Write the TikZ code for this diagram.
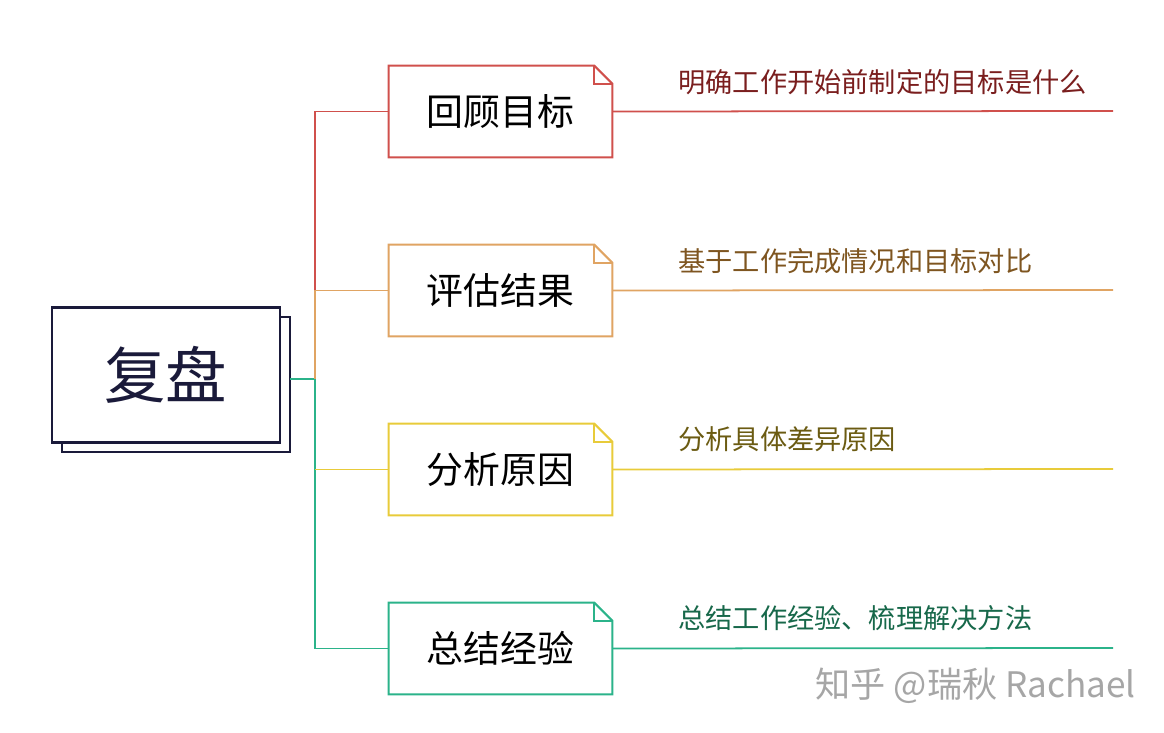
\documentclass[tikz,border=0pt]{standalone}
\usepackage{fontspec}
\setmainfont{Noto Sans CJK SC}
\usetikzlibrary{positioning}
\definecolor{cred}{HTML}{D0504C}
\definecolor{corange}{HTML}{E0A463}
\definecolor{cyellow}{HTML}{E8CB3A}
\definecolor{cgreen}{HTML}{2BB38A}
\definecolor{tred}{HTML}{7A1E1E}
\definecolor{torange}{HTML}{7E5520}
\definecolor{tyellow}{HTML}{6B5B12}
\definecolor{tgreen}{HTML}{17684A}
\definecolor{navy}{HTML}{1A1A3A}
\newcommand{\notebox}[2]{%
  \draw[#2,line width=1.2pt,fill=white] (#1.north west) -- ([xshift=-0.36cm]#1.north east) -- ([yshift=-0.36cm]#1.north east) -- (#1.south east) -- (#1.south west) -- cycle;
  \draw[#2,line width=1pt] ([xshift=-0.36cm]#1.north east) -- ([xshift=-0.36cm,yshift=-0.36cm]#1.north east) -- ([yshift=-0.36cm]#1.north east);}
\begin{document}
\begin{tikzpicture}[x=0.02cm,y=-0.02cm,
  topic/.style={minimum width=4.46cm,minimum height=1.82cm,inner sep=0pt,font=\fontsize{21}{21}\selectfont},
  label/.style={anchor=south west,inner sep=0pt,font=\fontsize{15.5}{15.5}\selectfont}]
		\useasboundingbox (0,0) rectangle (1164,733);

		%root
		\draw[navy,line width=1.2pt,fill=white] (62,317) rectangle (290,452);
		\node[draw=navy,text=navy,line width=1.2pt,fill=white,minimum width=4.56cm,minimum height=2.7cm,inner sep=0pt,font=\fontsize{35}{35}\selectfont] (root) at (166,375) {复盘};
		\coordinate (r) at (290,379);
		\coordinate (t) at (315,379);

		%topics
		\node[topic] (n1) at (500.5,111.5) {};
		\node[topic] (n2) at (500.5,290.5) {};
		\node[topic] (n3) at (500.5,469.5) {};
		\node[topic] (n4) at (500.5,648.5) {};

		%trunk
		\draw[cgreen,line width=1pt] (r) -- (t) -- (t |- n4) -- (n4.west);
		\draw[cyellow,line width=1pt] (t |- n3) -- (n3.west);
		\draw[corange,line width=1pt] (t) -- (t |- n2) -- (n2.west);
		\draw[cred,line width=1pt] (t |- n2) -- (t |- n1) -- (n1.west);

		\notebox{n1}{cred}
		\notebox{n2}{corange}
		\notebox{n3}{cyellow}
		\notebox{n4}{cgreen}
		\node[topic] at (n1) {回顾目标};
		\node[topic] at (n2) {评估结果};
		\node[topic] at (n3) {分析原因};
		\node[topic] at (n4) {总结经验};

		%leaves
		\coordinate (e1) at (1113,111);
		\coordinate (e2) at (1113,290);
		\coordinate (e3) at (1113,469);
		\coordinate (e4) at (1113,648);
		\draw[cred,line width=1pt] (n1.east) -- (e1);
		\draw[corange,line width=1pt] (n2.east) -- (e2);
		\draw[cyellow,line width=1pt] (n3.east) -- (e3);
		\draw[cgreen,line width=1pt] (n4.east) -- (e4);
		\node[label,text=tred] (l1) at (678,95) {明确工作开始前制定的目标是什么};
		\node[label,text=torange] (l2) at (678,274) {基于工作完成情况和目标对比};
		\node[label,text=tyellow] (l3) at (678,452) {分析具体差异原因};
		\node[label,text=tgreen] (l4) at (678,631) {总结工作经验、梳理解决方法};

		\node[anchor=east,inner sep=0pt,text=black!35,font=\fontsize{20}{20}\selectfont] (wm) at (1136,686) {知乎 @瑞秋 Rachael};
		\end{tikzpicture}
\end{document}
